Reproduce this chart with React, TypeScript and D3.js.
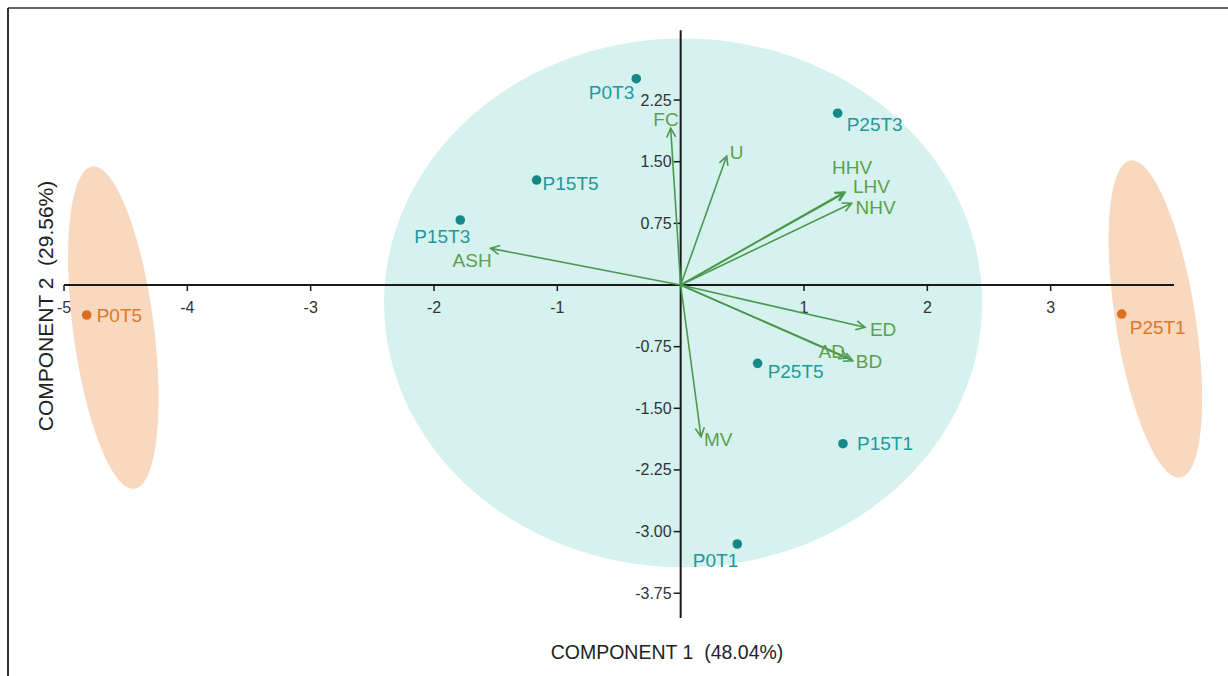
import React from "react";
import * as d3 from "d3";

// Sample scores on the first two principal components
const sampleNames = ["P0T3", "P25T3", "P15T5", "P15T3", "P25T5", "P15T1", "P0T1", "P0T5", "P25T1"];
const sampleX = [-0.36, 1.273, -1.168, -1.787, 0.624, 1.316, 0.459, -4.816, 3.576];
const sampleY = [2.51, 2.09, 1.277, 0.791, -0.953, -1.931, -3.151, -0.365, -0.353];
const sampleGroup = ["core", "core", "core", "core", "core", "core", "core", "outer", "outer"];

// Variable loadings (biplot vectors)
const varNames = ["FC", "U", "HHV", "LHV", "NHV", "ASH", "ED", "AD", "BD", "MV"];
const varX = [-0.081, 0.373, 1.325, 1.332, 1.386, -1.541, 1.494, 1.357, 1.395, 0.165];
const varY = [1.906, 1.569, 1.13, 1.123, 0.994, 0.446, -0.515, -0.888, -0.921, -1.846];

// Group ellipses: centre, major half-axis vector, minor half-axis vector (data units)
const ellipseGroup = ["core", "outer", "outer"];
const ellipseCenterX = [0.02, -4.6, 3.849];
const ellipseCenterY = [-0.217, -0.518, -0.413];
const ellipseMajorX = [0, 0.17, 0.203];
const ellipseMajorY = [3.217, -1.96, -1.928];
const ellipseMinorX = [2.425, 0.325, 0.32];
const ellipseMinorY = [0, 0.06, 0.075];

// Axis ticks
const xTicks = [-5, -4, -3, -2, -1, 1, 2, 3];
const yTicks = [2.25, 1.5, 0.75, -0.75, -1.5, -2.25, -3.0, -3.75];

const xTitle = "COMPONENT 1  (48.04%)";
const yTitle = "COMPONENT 2  (29.56%)";

const W = 1228;
const H = 676;

const colors: Record<string, { fill: string; point: string; label: string }> = {
  core: { fill: "#d5f2ef", point: "#15888a", label: "#23989b" },
  outer: { fill: "#f8d8bf", point: "#dc6e1c", label: "#df7826" },
};
const arrowColor = "#4c984e";
const varLabelColor = "#5f9f4b";

// label placement: [dx, dy, anchor]
const sampleLabelPos: Record<string, [number, number, string]> = {
  P0T3: [-2, 14, "end"],
  P25T3: [9, 11, "start"],
  P15T5: [6, 3, "start"],
  P15T3: [10, 17, "end"],
  P25T5: [10, 8, "start"],
  P15T1: [14, 0, "start"],
  P0T1: [1, 16, "end"],
  P0T5: [10, 0, "start"],
  P25T1: [8, 13, "start"],
};
const varLabelPos: Record<string, [number, number, string]> = {
  FC: [8, -9, "end"],
  U: [3, -4, "start"],
  HHV: [-12, -25, "start"],
  LHV: [8, -6, "start"],
  NHV: [4, 4, "start"],
  ASH: [1, 12, "end"],
  ED: [5, 2, "start"],
  AD: [-3, -6, "end"],
  BD: [3, 1, "start"],
  MV: [3, 3, "start"],
};

export default function App() {
  const x = d3.scaleLinear().domain([-5, 4]).range([64, 1174]);
  const y = d3.scaleLinear().domain([-4.05, 3.1]).range([617.9, 30.2]);
  const x0 = x(0);
  const y0 = y(0);
  const font = "Arial, 'Liberation Sans', sans-serif";

  const ellipsePath = (i: number) => {
    const ts = d3.range(0, 361, 3).map((d) => (d * Math.PI) / 180);
    const line = d3
      .line<number>()
      .x((t) => x(ellipseCenterX[i] + Math.cos(t) * ellipseMajorX[i] + Math.sin(t) * ellipseMinorX[i]))
      .y((t) => y(ellipseCenterY[i] + Math.cos(t) * ellipseMajorY[i] + Math.sin(t) * ellipseMinorY[i]))
      .curve(d3.curveLinearClosed);
    return line(ts) || "";
  };

  const arrowHead = (tx: number, ty: number) => {
    const ang = Math.atan2(ty - y0, tx - x0);
    const len = 10;
    const spread = (27 * Math.PI) / 180;
    const a1 = ang + Math.PI - spread;
    const a2 = ang + Math.PI + spread;
    return `M${tx + len * Math.cos(a1)},${ty + len * Math.sin(a1)}L${tx},${ty}L${tx + len * Math.cos(a2)},${ty + len * Math.sin(a2)}`;
  };

  return (
    <svg
      width={W}
      height={H}
      style={{ position: "absolute", left: 0, top: 0, background: "#fff" }}
      fontFamily={font}
    >
      <rect x={0} y={0} width={W} height={H} fill="#fff" />
      {/* frame */}
      <line x1={8} y1={8} x2={W} y2={8} stroke="#333" strokeWidth={1.5} />
      <line x1={8} y1={8} x2={8} y2={H} stroke="#333" strokeWidth={2} />

      {/* group ellipses */}
      {ellipseGroup.map((g, i) => (
        <path key={"e" + i} d={ellipsePath(i)} fill={colors[g].fill} stroke="none" />
      ))}

      {/* axes */}
      <line x1={x(-5)} y1={y0} x2={x(4)} y2={y0} stroke="#1a1a1a" strokeWidth={2} />
      <line x1={x0} y1={y(3.1)} x2={x0} y2={y(-4.05)} stroke="#1a1a1a" strokeWidth={2} />
      {xTicks.map((t) => (
        <g key={"xt" + t}>
          <line x1={x(t)} y1={y0} x2={x(t)} y2={y0 + 6} stroke="#1a1a1a" strokeWidth={1.5} />
          <text x={x(t)} y={y0 + 22} textAnchor="middle" dominantBaseline="central" fontSize={16} fill="#333">
            {String(t)}
          </text>
        </g>
      ))}
      {yTicks.map((t) => (
        <g key={"yt" + t}>
          <line x1={x0 - 7} y1={y(t)} x2={x0} y2={y(t)} stroke="#1a1a1a" strokeWidth={1.5} />
          <text x={x0 - 9} y={y(t)} textAnchor="end" dominantBaseline="central" fontSize={16} fill="#333">
            {t.toFixed(2)}
          </text>
        </g>
      ))}

      {/* loading vectors */}
      {varNames.map((n, i) => {
        const tx = x(varX[i]);
        const ty = y(varY[i]);
        return (
          <g key={"v" + n}>
            <line x1={x0} y1={y0} x2={tx} y2={ty} stroke={arrowColor} strokeWidth={1.6} />
            <path d={arrowHead(tx, ty)} fill="none" stroke={arrowColor} strokeWidth={1.6} />
          </g>
        );
      })}
      {varNames.map((n, i) => {
        const [dx, dy, anchor] = varLabelPos[n];
        return (
          <text
            key={"vl" + n}
            x={x(varX[i]) + dx}
            y={y(varY[i]) + dy}
            textAnchor={anchor as any}
            dominantBaseline="central"
            fontSize={19}
            fill={varLabelColor}
          >
            {n}
          </text>
        );
      })}

      {/* sample scores */}
      {sampleNames.map((n, i) => (
        <circle key={"p" + n} cx={x(sampleX[i])} cy={y(sampleY[i])} r={4.8} fill={colors[sampleGroup[i]].point} />
      ))}
      {sampleNames.map((n, i) => {
        const [dx, dy, anchor] = sampleLabelPos[n];
        return (
          <text
            key={"pl" + n}
            x={x(sampleX[i]) + dx}
            y={y(sampleY[i]) + dy}
            textAnchor={anchor as any}
            dominantBaseline="central"
            fontSize={19}
            fill={colors[sampleGroup[i]].label}
          >
            {n}
          </text>
        );
      })}

      {/* axis titles */}
      <text
        x={667}
        y={652}
        textAnchor="middle"
        dominantBaseline="central"
        fontSize={19.5}
        fill="#222"
        style={{ whiteSpace: "pre" }}
      >
        {xTitle}
      </text>
      <text
        transform={`translate(45,306) rotate(-90)`}
        textAnchor="middle"
        dominantBaseline="central"
        fontSize={21}
        fill="#222"
        style={{ whiteSpace: "pre" }}
      >
        {yTitle}
      </text>
    </svg>
  );
}
